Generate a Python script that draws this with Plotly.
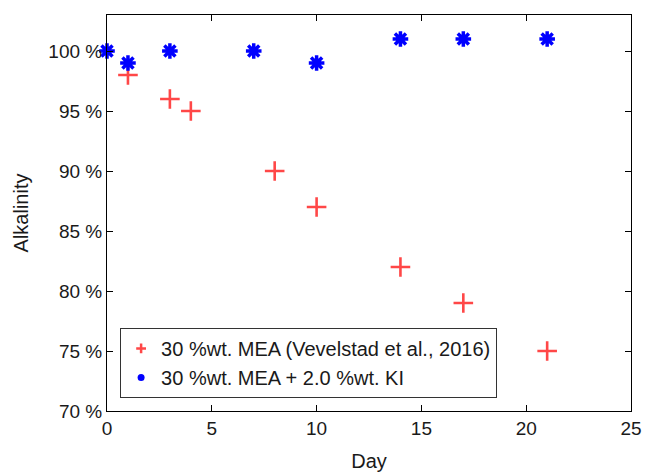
import plotly.graph_objects as go

mea_days = [1, 3, 4, 8, 10, 14, 17, 21]
mea_alk = [98, 96, 95, 90, 87, 82, 79, 75]
ki_days = [0, 1, 3, 7, 10, 14, 17, 21]
ki_alk = [100, 99, 100, 100, 99, 101, 101, 101]
y_ticks = [70, 75, 80, 85, 90, 95, 100]
y_labels = ["70 %", "75 %", "80 %", "85 %", "90 %", "95 %", "100 %"]
x_ticks = [0, 5, 10, 15, 20, 25]

RED = "#FF4747"
BLUE = "#0000FF"

fig = go.Figure()
fig.add_trace(go.Scatter(x=mea_days, y=mea_alk, mode="markers", showlegend=False,
                         marker=dict(symbol="cross-thin-open", size=14, color=RED,
                                     line=dict(width=2.6, color=RED)), cliponaxis=False))
fig.add_trace(go.Scatter(x=ki_days, y=ki_alk, mode="markers", showlegend=False,
                         marker=dict(symbol="asterisk-open", size=13, color=BLUE,
                                     line=dict(width=3.5, color=BLUE)), cliponaxis=False))
fig.add_trace(go.Scatter(x=[None], y=[None], mode="markers",
                         name="30 %wt. MEA (Vevelstad et al., 2016)",
                         marker=dict(symbol="cross-thin-open", size=7, color=RED,
                                     line=dict(width=2.5, color=RED))))
fig.add_trace(go.Scatter(x=[None], y=[None], mode="markers",
                         name="30 %wt. MEA + 2.0 %wt. KI",
                         marker=dict(symbol="circle", size=7, color=BLUE)))

axis_common = dict(showgrid=False, zeroline=False, showline=True, linecolor="black",
                   linewidth=1, mirror="ticks", ticks="inside", ticklen=6,
                   tickcolor="black", tickfont=dict(size=19, color="#1a1a1a"),
                   automargin=False)

fig.update_layout(
    width=651, height=472,
    margin=dict(l=107, r=20, t=15, b=61),
    paper_bgcolor="white", plot_bgcolor="white",
    font=dict(family="Liberation Sans, Arial, sans-serif", color="#1a1a1a"),
    xaxis=dict(range=[0, 25], tickvals=x_ticks, **axis_common,
               title=dict(text="Day", font=dict(size=20), standoff=18)),
    yaxis=dict(range=[70, 103], tickvals=y_ticks, ticktext=y_labels, **axis_common,
               title=dict(text="Alkalinity", font=dict(size=20), standoff=14)),
    legend=dict(x=0.025, y=0.033, xanchor="left", yanchor="bottom",
                bgcolor="white", bordercolor="#333333", borderwidth=1,
                font=dict(size=20), itemwidth=30, tracegroupgap=0,
                entrywidth=360, entrywidthmode="pixels"),
)

fig.write_html("out.html")
